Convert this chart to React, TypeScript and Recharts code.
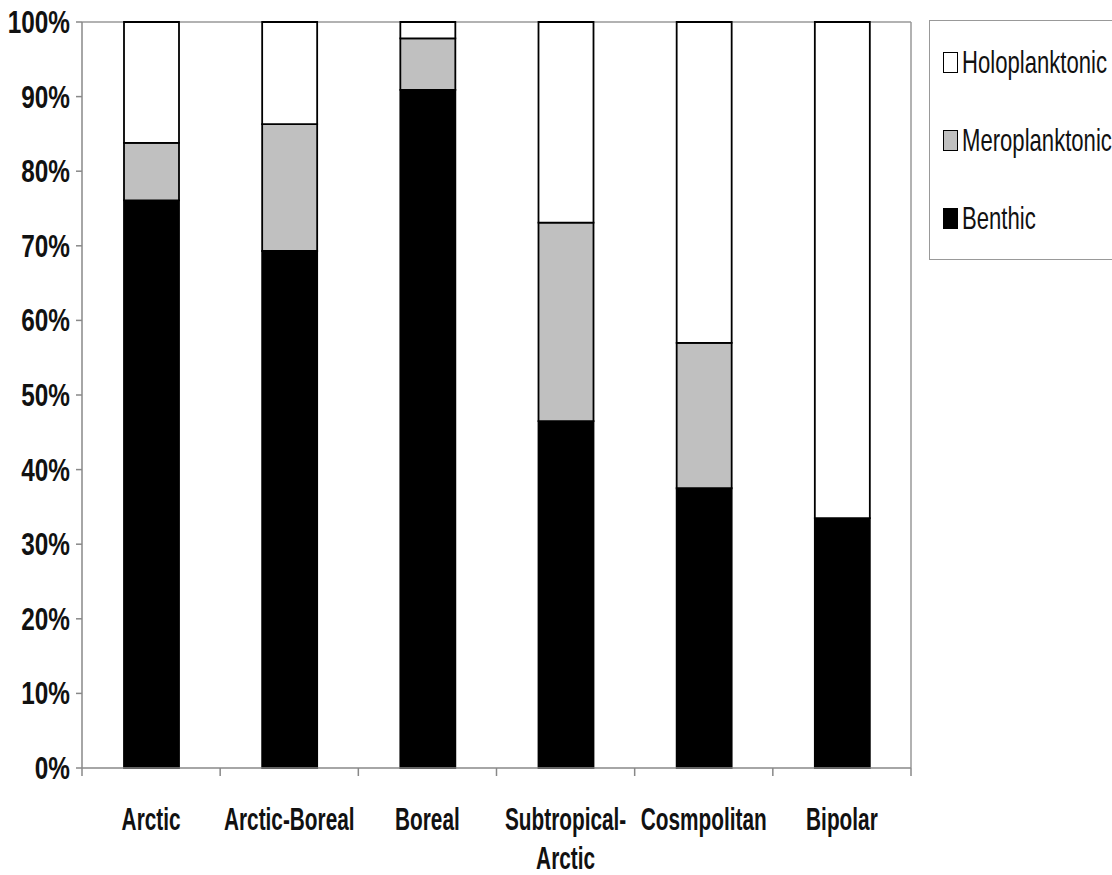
import React from 'react';
import { BarChart, Bar, XAxis, YAxis, CartesianGrid } from 'recharts';

const categories = ['Arctic', 'Arctic-Boreal', 'Boreal', 'Subtropical-Arctic', 'Cosmpolitan', 'Bipolar'];
const tickLines = [['Arctic'], ['Arctic-Boreal'], ['Boreal'], ['Subtropical-', 'Arctic'], ['Cosmpolitan'], ['Bipolar']];
const benthic = [76.1, 69.3, 90.9, 46.5, 37.5, 33.5];
const meroplanktonic = [7.7, 17.0, 6.9, 26.6, 19.5, 0];
const holoplanktonic = [16.2, 13.7, 2.2, 26.9, 43.0, 66.5];
const yTicks = [0, 10, 20, 30, 40, 50, 60, 70, 80, 90, 100];

const series = [
  { key: 'benthic', name: 'Benthic', color: '#000000' },
  { key: 'mero', name: 'Meroplanktonic', color: '#c0c0c0' },
  { key: 'holo', name: 'Holoplanktonic', color: '#ffffff' },
];

const data = categories.map((c, i) => ({
  name: c,
  benthic: benthic[i],
  mero: meroplanktonic[i],
  holo: holoplanktonic[i],
}));

const W = 1112;
const H = 875;
const xAxisHeight = 107;
const margin = { top: 22, right: 201, bottom: 0, left: 0 };
const yAxisWidth = 82;
const plotW = W - margin.left - margin.right - yAxisWidth;
const axisY = H - margin.bottom - xAxisHeight;
const halfBand = plotW / categories.length / 2;
const FONT = '"Liberation Sans Narrow", "Arial Narrow", "Liberation Sans", Arial, sans-serif';

const XTick = (props: any) => {
  const { x, payload, index } = props;
  const lines = tickLines[index] || [payload.value];
  return (
    <g>
      <line x1={x - halfBand} y1={axisY} x2={x - halfBand} y2={axisY + 8} stroke="#888" strokeWidth={1.5} />
      {index === categories.length - 1 && (
        <line x1={x + halfBand} y1={axisY} x2={x + halfBand} y2={axisY + 8} stroke="#888" strokeWidth={1.5} />
      )}
      <g transform={`translate(${x},${axisY}) scale(0.8,1.22)`}>
        {lines.map((l: string, i: number) => (
          <text key={i} x={0} y={50.8 + i * 32} textAnchor="middle" fontFamily={FONT} fontWeight="bold" fontSize={26} fill="#111">
            {l}
          </text>
        ))}
      </g>
    </g>
  );
};

const YTick = (props: any) => {
  const { x, y, payload } = props;
  return (
    <g transform={`translate(${x - 4},${y}) scale(0.84,1.06)`}>
      <text x={0} y={0} dy="0.36em" textAnchor="end" fontFamily={FONT} fontWeight="bold" fontSize={29} fill="#111">
        {`${payload.value}%`}
      </text>
    </g>
  );
};

export default function App() {
  return (
    <div style={{ position: 'absolute', left: 0, top: 0, width: W, height: H, overflow: 'hidden', background: '#fff' }}>
      <BarChart width={W} height={H} data={data} margin={margin} barCategoryGap={0}>
        <CartesianGrid
          stroke="#999"
          strokeWidth={1.5}
          horizontalCoordinatesGenerator={({ offset }: any) => [offset.top]}
          verticalCoordinatesGenerator={({ offset }: any) => [offset.left + offset.width]}
        />
        <XAxis dataKey="name" axisLine={{ stroke: '#888', strokeWidth: 1.5 }} tickLine={false} tick={<XTick />} interval={0} height={xAxisHeight} />
        <YAxis
          domain={[0, 100]}
          ticks={yTicks}
          width={yAxisWidth}
          axisLine={{ stroke: '#888', strokeWidth: 1.5 }}
          tickLine={{ stroke: '#888', strokeWidth: 1.5 }}
          tickSize={6}
          tick={<YTick />}
        />
        {series.map((s) => (
          <Bar
            key={s.key}
            dataKey={s.key}
            name={s.name}
            stackId="a"
            fill={s.color}
            stroke="#000"
            strokeWidth={1.8}
            barSize={55}
            isAnimationActive={false}
          />
        ))}
      </BarChart>
      <div
        style={{
          position: 'absolute',
          left: 929,
          top: 20,
          width: 240,
          height: 240,
          border: '1.5px solid #999',
          boxSizing: 'border-box',
          fontFamily: FONT,
        }}
      >
        {[...series].reverse().map((s, i) => (
          <div key={s.key} style={{ position: 'absolute', left: 13, top: 29 + i * 78, height: 24, display: 'flex', alignItems: 'center' }}>
            <div style={{ width: 15, height: 21, background: s.color, border: '1.5px solid #000', boxSizing: 'border-box' }} />
            <span
              style={{
                marginLeft: 4,
                fontSize: 26,
                color: '#111',
                display: 'inline-block',
                transform: 'scale(0.85,1.22)',
                transformOrigin: 'left center',
                lineHeight: '24px',
                whiteSpace: 'nowrap',
              }}
            >
              {s.name}
            </span>
          </div>
        ))}
      </div>
    </div>
  );
}
